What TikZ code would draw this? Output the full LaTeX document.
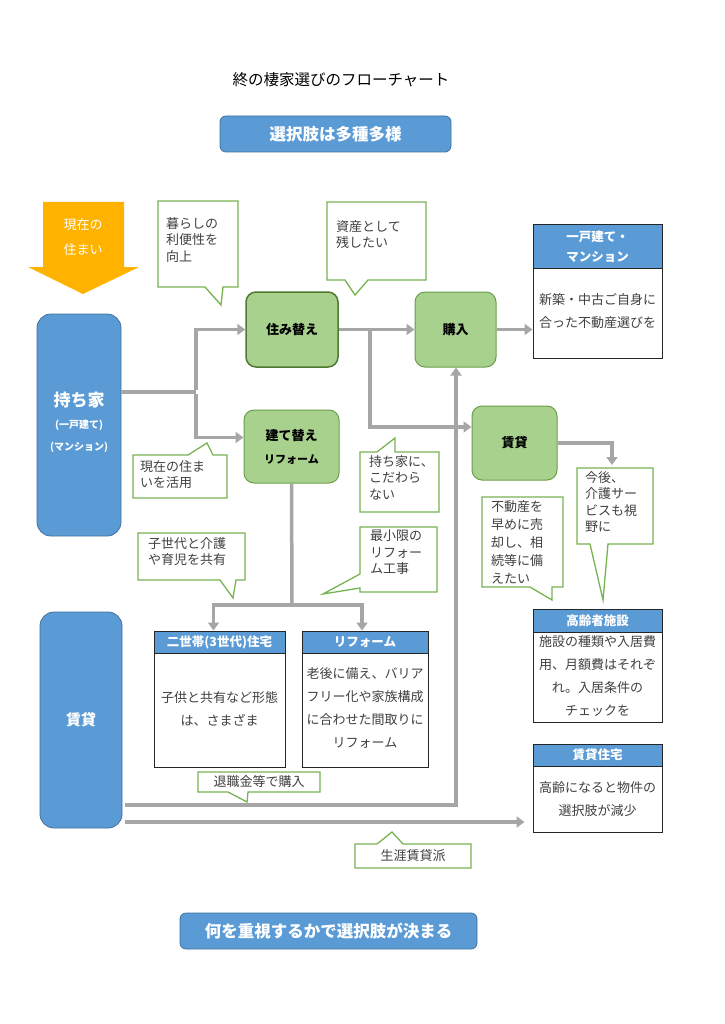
\documentclass[tikz,border=0pt]{standalone}
\usepackage{fontspec}
\setmainfont{Noto Sans CJK JP}
\usetikzlibrary{arrows.meta}
\definecolor{blu}{HTML}{5B9BD5}
\definecolor{bludk}{HTML}{41719C}
\definecolor{grnfill}{HTML}{A9D18E}
\definecolor{grnline}{HTML}{6B9E4A}
\definecolor{grndark}{HTML}{4E7A32}
\definecolor{gry}{HTML}{A6A6A6}
\definecolor{cline}{HTML}{78B352}
\definecolor{orng}{HTML}{FFB300}
\definecolor{dk}{HTML}{262626}
\definecolor{tg}{HTML}{404040}
\tikzset{
  fs/.style={font=\fontsize{#1}{#1}\selectfont},
  bar/.style={fill=blu, draw=bludk, line width=0.8pt, rounded corners=6pt, text=white,
    font=\bfseries\fontsize{16.5}{18}\selectfont, inner sep=0},
  col/.style={fill=blu, draw=bludk, line width=0.8pt, rounded corners=14pt, text=white,
    align=center, inner sep=0},
  gbox/.style={fill=grnfill, draw=grnline, line width=1pt, rounded corners=10pt,
    font=\bfseries\fontsize{13}{16}\selectfont, align=center, inner sep=0},
  obody/.style={draw=dk, fill=white, line width=1pt, inner sep=0},
  ohead/.style={draw=dk, fill=blu, line width=1pt, inner sep=0, text=white,
    font=\bfseries\fontsize{12.5}{20}\selectfont, align=center},
  otext/.style={text=tg, font=\fontsize{13}{23}\selectfont, align=center, inner sep=0},
  callout/.style={draw=cline, fill=white, line width=1.3pt},
  ctext/.style={text=tg, font=\fontsize{13}{16.5}\selectfont, align=left, anchor=north west, inner sep=0},
  cctext/.style={text=tg, font=\fontsize{13}{16.5}\selectfont, inner sep=0},
  lnk/.style={draw=gry, line width=3.5pt},
  arr/.style={draw=gry, line width=3.5pt, -{Triangle[length=8pt,width=11pt]}},
}
\begin{document}
\begin{tikzpicture}[x=1pt,y=-1pt]
\path[use as bounding box, fill=white] (0,0) rectangle (724,1024);

% title and banners
\node[fs=15.5, inner sep=0] (title) at (341,80) {終の棲家選びのフローチャート};
\node[bar, minimum width=231pt, minimum height=36pt] (top) at (335.5,134) {選択肢は多種多様};
\node[bar, minimum width=297pt, minimum height=36pt] (bottom) at (328.5,931) {何を重視するかで選択肢が決まる};

% orange arrow
\fill[orng] (43,202) -- (124,202) -- (124,267) -- (139,267) -- (83,294) -- (28,267) -- (43,267) -- cycle;
\node[text=white, font=\fontsize{13}{25}\selectfont, align=center, inner sep=0] (genzai) at (83,237) {現在の\\住まい};

% blue columns
\node[col, minimum width=84pt, minimum height=222pt] (mochi) at (79,425) {};
\node[text=white, font=\bfseries\fontsize{17}{20}\selectfont, inner sep=0] (mochiT) at (79,400) {持ち家};
\node[text=white, font=\bfseries\fontsize{10}{22}\selectfont, align=center, inner sep=0] (mochiS) at (79,436) {(一戸建て)\\(マンション)};
\node[col, minimum width=82pt, minimum height=216pt, font=\bfseries\fontsize{15}{18}\selectfont] (rent) at (81,720) {賃貸};

% green boxes
\node[gbox, draw=grndark, line width=1.5pt, minimum width=92pt, minimum height=75pt] (sumi) at (292,329.5) {住み替え};
\node[gbox, minimum width=95pt, minimum height=73pt] (tate) at (291.5,446.5) {};
\node[font=\bfseries\fontsize{13}{16}\selectfont, inner sep=0] (tateA) at (291.5,436) {建て替え};
\node[font=\bfseries\fontsize{11}{14}\selectfont, inner sep=0] (tateB) at (291.5,460) {リフォーム};
\node[gbox, minimum width=81pt, minimum height=75pt] (kounyu) at (455.5,329.5) {購入};
\node[gbox, minimum width=85pt, minimum height=74pt] (chintai) at (514.5,443) {賃貸};

% output boxes
\node[obody, minimum width=129pt, minimum height=133pt] (koudate) at (597.5,291.5) {};
\node[ohead, minimum width=129pt, minimum height=43pt, anchor=north] (koudateH) at (koudate.north) {一戸建て・\\マンション};
\node[otext] (koudateT) at (597.5,311.5) {新築・中古ご自身に\\合った不動産選びを};

\node[obody, minimum width=131pt, minimum height=136pt] (nisetai) at (219.5,699) {};
\node[ohead, minimum width=131pt, minimum height=22pt, anchor=north] (nisetaiH) at (nisetai.north) {二世帯(3世代)住宅};
\node[otext] (nisetaiT) at (219.5,708.5) {子供と共有など形態\\は、さまざま};

\node[obody, minimum width=126pt, minimum height=136pt] (riform) at (365,699) {};
\node[ohead, minimum width=126pt, minimum height=22pt, anchor=north] (riformH) at (riform.north) {リフォーム};
\node[otext] (riformT) at (365,707.5) {老後に備え、バリア\\フリー化や家族構成\\に合わせた間取りに\\リフォーム};

\node[obody, minimum width=129pt, minimum height=113pt] (kourei) at (597.5,665.5) {};
\node[ohead, minimum width=129pt, minimum height=23pt, anchor=north] (koureiH) at (kourei.north) {高齢者施設};
\node[otext] (koureiT) at (597.5,676.5) {施設の種類や入居費\\用、月額費はそれぞ\\れ。入居条件の\\チェックを};

\node[obody, minimum width=129pt, minimum height=88pt] (chinjuu) at (597.5,788) {};
\node[ohead, minimum width=129pt, minimum height=22pt, anchor=north] (chinjuuH) at (chinjuu.north) {賃貸住宅};
\node[otext] (chinjuuT) at (597.5,799) {高齢になると物件の\\選択肢が減少};

% connectors
\coordinate (j1) at (196,392);
\draw[lnk] (mochi.east |- j1) -- (j1);
\draw[arr] ([yshift=2pt]j1) |- (sumi.west);
\draw[arr] ([yshift=-2pt]j1) |- ([yshift=9pt]tate.west);
\draw[arr] (sumi.east) -- (kounyu.west);
\coordinate (j2) at (370,330);
\draw[arr] ([yshift=1.75pt]j2) |- ([yshift=16pt]chintai.west);
\draw[arr] (kounyu.east) -- (kounyu.east -| koudate.west);
\coordinate (j6) at (612,465);
\draw[arr] (chintai.east) -| (j6);
\coordinate (j3) at (292,605);
\draw[lnk] (tate.south) -- (j3);
\draw[arr] (j3) -| ([xshift=-6pt]nisetai.north);
\draw[arr] (j3) -| ([xshift=-3pt]riform.north);
\coordinate (j4) at (456,805);
\draw[arr] ([xshift=3pt]rent.east |- j4) -- (j4) -- (j4 |- kounyu.south);
\coordinate (j5) at (125,822);
\draw[arr, shorten >=8pt] (j5) -- (j5 -| chinjuu.west);

% callouts
\draw[callout] (158,201) -- (238,201) -- (238,287) -- (223,287) -- (221,305) -- (205,287) -- (158,287) -- cycle;
\node[ctext] (c1) at (166,217) {暮らしの\\利便性を\\向上};

\draw[callout] (327,202) -- (426,202) -- (426,280) -- (368,280) -- (355,295) -- (345,280) -- (327,280) -- cycle;
\node[ctext] (c2) at (336,220) {資産として\\残したい};

\draw[callout] (133,455) -- (188,455) -- (207,443) -- (213,455) -- (227,455) -- (227,498) -- (133,498) -- cycle;
\node[ctext] (c3) at (140,460) {現在の住ま\\いを活用};

\draw[callout] (360,452) -- (377,452) -- (395,438) -- (395,452) -- (439,452) -- (439,512) -- (360,512) -- cycle;
\node[ctext] (c4) at (369,455) {持ち家に、\\こだわら\\ない};

\draw[callout] (360,527) -- (437,527) -- (437,592) -- (360,592) -- (360,588) -- (323,594) -- (360,574) -- cycle;
\node[ctext] (c5) at (370,530) {最小限の\\リフォー\\ム工事};

\draw[callout] (138,533) -- (245,533) -- (245,580) -- (236,580) -- (233,598) -- (220,580) -- (138,580) -- cycle;
\node[ctext] (c6) at (148,537) {子世代と介護\\や育児を共有};

\draw[callout] (482,497) -- (563,497) -- (563,587) -- (552,587) -- (552,600) -- (530,587) -- (482,587) -- cycle;
\node[ctext, font=\fontsize{13}{18}\selectfont] (c7) at (491,500) {不動産を\\早めに売\\却し、相\\続等に備\\えたい};

\draw[callout] (577,468) -- (653,468) -- (653,544) -- (608,544) -- (603,600) -- (590,544) -- (577,544) -- cycle;
\node[ctext] (c8) at (585,471) {今後、\\介護サー\\ビスも視\\野に};

\draw[callout] (198,772) -- (320,772) -- (320,792) -- (248,792) -- (247,802) -- (228,792) -- (198,792) -- cycle;
\node[cctext] (c9) at (259,782) {退職金等で購入};

\draw[callout] (355,844) -- (377,844) -- (392,832) -- (403,844) -- (471,844) -- (471,868) -- (355,868) -- cycle;
\node[cctext] (c10) at (413,856) {生涯賃貸派};
\end{tikzpicture}
\end{document}
